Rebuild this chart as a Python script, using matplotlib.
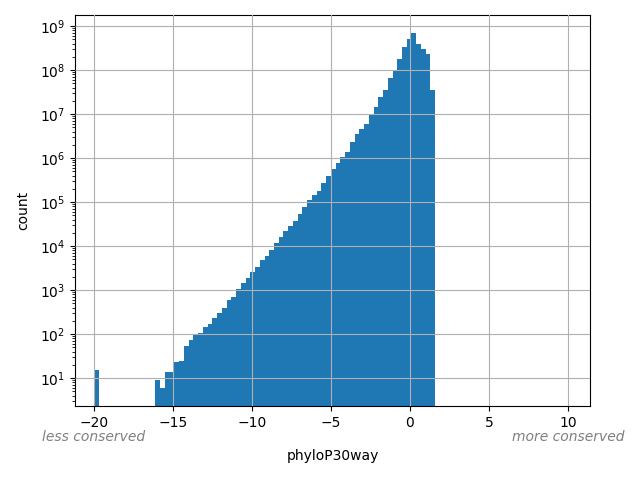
import numpy as np
import matplotlib
matplotlib.use("Agg")
import matplotlib.pyplot as plt
import matplotlib.transforms as mtransforms

counts = [15] + [0]*12 + [9, 6, 14, 14, 23, 24, 53, 73, 100, 105, 145, 170, 235, 300, 400, 590, 690,
          1050, 1450, 1850, 2550, 3300,
          4700, 6000, 8100, 11800, 16000, 22000, 28000, 37000, 54000, 78000,
          112000, 145000, 178000, 270000, 390000, 560000, 770000, 1.05e6, 1.4e6, 2.3e6,
          3.5e6, 4.6e6, 5.9e6, 9.5e6, 1.45e7, 2.4e7, 3.5e7, 6.6e7, 9.5e7, 1.8e8,
          3.3e8, 5.0e8, 6.9e8, 3.9e8, 3.0e8, 2.3e8, 3.5e7]
edges = np.linspace(-20, -20 + 0.3 * len(counts), len(counts) + 1)
centers = (edges[:-1] + edges[1:]) / 2

fig, ax = plt.subplots(figsize=(6.4, 4.8), dpi=100)
fig.subplots_adjust(left=0.117, right=0.922, top=0.969, bottom=0.154)
ax.hist(centers, bins=edges, weights=counts, color='#1f77b4')
ax.set_yscale('log')
ax.set_xlim(-21.2, 11.4)
ax.set_ylim(2.3, 1.8e9)
ax.grid(True, color='#b0b0b0')
ax.set_axisbelow(False)
ax.set_xlabel('phyloP30way', labelpad=14)
ax.set_ylabel('count', labelpad=7)
tr = mtransforms.blended_transform_factory(ax.transData, ax.transAxes)
ax.text(-20, -0.079, 'less conserved', transform=tr, ha='center', va='center',
        color='gray', style='italic')
ax.text(10, -0.079, 'more conserved', transform=tr, ha='center', va='center',
        color='gray', style='italic')
fig.savefig('out.png')
